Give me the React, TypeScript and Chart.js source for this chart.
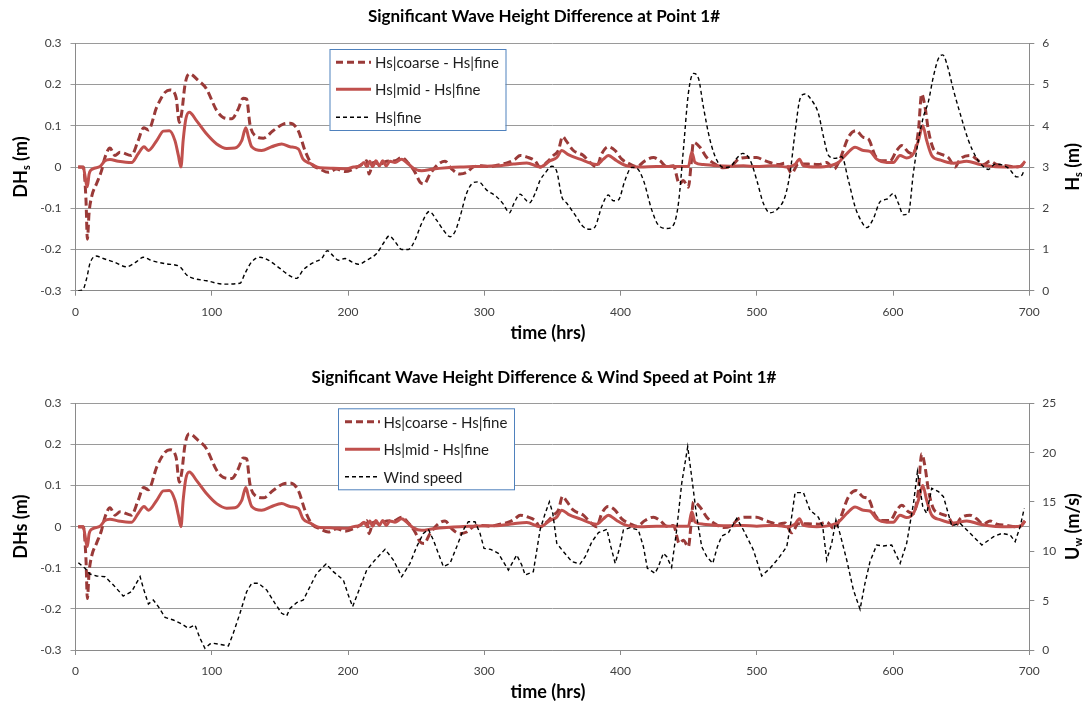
import React, { useEffect, useRef } from "react";
import Chart from "chart.js/auto";

// ---------------- data ----------------
const xTicks = [0, 100, 200, 300, 400, 500, 600, 700];
const dhTicks = [-0.3, -0.2, -0.1, 0, 0.1, 0.2, 0.3];
const hsTicks = [0, 1, 2, 3, 4, 5, 6];
const windTicks = [0, 5, 10, 15, 20, 25];

const coarseT = [2, 5.7, 7.7, 8.7, 10, 12, 15.5, 19, 21.6, 25.3, 29, 32.7, 41, 46, 50, 53.5, 59.6, 65.7, 69.4, 73.8, 76.2, 78, 80.4, 83.5, 90, 96, 103.6, 108.5, 114.6, 119.5, 123, 125.6, 128, 131.7, 137.9, 145, 152.5, 157.4, 163.5, 168.4, 173.3, 179.4, 185.6, 191.6, 197.8, 204, 210, 213.8, 215.4, 218.6, 223.5, 228.4, 234.5, 239.4, 244.3, 249.2, 252.9, 255.8, 260.2, 266.3, 271.2, 276.1, 282.2, 287.1, 292, 298.1, 304.2, 311.6, 317.7, 322.6, 326.3, 332.3, 337.3, 340.9, 345.8, 350.7, 354.4, 357.5, 360, 365.4, 372.7, 377.6, 382.5, 386.2, 391, 396, 400.9, 407, 411.9, 418, 424.1, 429, 433.9, 438.8, 443.2, 446.1, 449.8, 451.8, 453.5, 458.3, 463.3, 469.4, 475.5, 481.6, 486.5, 492.6, 500, 504.8, 509.7, 515.8, 520.7, 525.6, 530.5, 537.9, 545.2, 551.3, 556.7, 561.1, 567.2, 572.8, 578.2, 581.9, 586.8, 591.7, 597.8, 602.7, 606.4, 611.3, 614.9, 618.6, 621, 623.5, 626, 629.6, 634.5, 640.6, 645.5, 649.2, 656.5, 661.4, 666.3, 671.2, 676.1, 683.4, 689.5, 694.4, 696.9];
const coarseV = [0, 0, -0.08, -0.175, -0.11, -0.07, -0.04, -0.01, 0.023, 0.046, 0.028, 0.036, 0.028, 0.064, 0.095, 0.09, 0.145, 0.181, 0.187, 0.169, 0.108, 0.133, 0.2, 0.226, 0.21, 0.19, 0.137, 0.12, 0.117, 0.141, 0.167, 0.165, 0.104, 0.076, 0.07, 0.088, 0.104, 0.106, 0.088, 0.04, 0.007, -0.005, -0.013, -0.005, -0.011, -0.005, 0.006, 0.015, -0.017, 0.011, 0.007, 0.014, 0.015, 0.023, 0.009, -0.013, -0.037, -0.041, -0.017, 0.007, 0.014, -0.005, -0.017, -0.013, 0, 0.003, 0.001, 0.006, 0.011, 0.019, 0.028, 0.023, 0.015, 0, 0.011, 0.028, 0.04, 0.074, 0.064, 0.04, 0.028, 0.011, 0, 0.032, 0.049, 0.04, 0.019, 0.007, 0.001, 0.015, 0.023, 0.015, 0.001, 0.003, -0.041, -0.033, -0.049, 0.007, 0.06, 0.048, 0.023, 0.007, -0.002, 0.003, 0.019, 0.023, 0.023, 0.017, 0.011, 0.006, 0.009, -0.015, 0.007, 0.007, 0.006, 0.011, -0.005, 0.019, 0.072, 0.088, 0.072, 0.068, 0.028, 0.015, 0.015, 0.04, 0.052, 0.036, 0.032, 0.088, 0.177, 0.145, 0.088, 0.044, 0.032, 0.023, 0, 0.019, 0.028, 0.019, 0.006, 0.014, 0.006, 0.003, 0, 0.003, 0.015];

const midT = [2, 5.7, 7.7, 8.7, 10, 12.6, 18, 21.6, 25.3, 31.4, 41.2, 46, 50.3, 53.5, 59.6, 64.5, 68.9, 73, 75.5, 77.4, 79, 81, 83.5, 88.9, 96.3, 103.6, 111, 117, 122, 125, 127, 129.3, 136.6, 144, 151.3, 157.4, 163.5, 167, 172, 179.4, 189, 199, 204, 208.8, 211.8, 213.8, 216, 218, 220.5, 223, 225.5, 228, 230.8, 234.5, 239.4, 243, 248, 254, 262.6, 272.4, 282.2, 292, 301.8, 311.6, 321.4, 331.2, 341, 348.3, 353.2, 356.9, 361.7, 370.3, 382.5, 387.4, 391, 397.2, 404.5, 414.3, 426.5, 438.8, 449.8, 452.3, 454.7, 460.8, 470.6, 480.4, 490.2, 500, 509.7, 514.6, 521.9, 528, 531.3, 534.2, 544, 553.8, 559.9, 566, 572.1, 578.2, 583, 588, 595.4, 600.2, 605.1, 610, 614.9, 618.6, 621.8, 624.7, 628.4, 634.5, 644.3, 654.1, 663.9, 673.6, 683.4, 693.2, 696.9];
const midV = [0, -0.001, -0.037, -0.048, -0.017, -0.005, 0.001, 0.015, 0.018, 0.014, 0.011, 0.032, 0.049, 0.04, 0.064, 0.087, 0.088, 0.064, 0.028, 0, 0.064, 0.117, 0.133, 0.112, 0.08, 0.056, 0.045, 0.046, 0.064, 0.095, 0.072, 0.049, 0.04, 0.049, 0.056, 0.049, 0.044, 0.019, 0.009, -0.002, -0.003, -0.004, 0, 0.003, 0.011, 0.001, 0.014, 0.001, 0.015, 0.003, 0.015, 0.003, 0.014, 0.011, 0.019, 0.011, -0.003, -0.009, -0.005, -0.002, 0, 0.001, 0.002, 0.003, 0.007, 0.01, 0, 0.015, 0.023, 0.04, 0.03, 0.019, 0.006, 0.019, 0.028, 0.015, 0.003, 0, 0.001, 0.001, 0.001, 0.036, 0.011, 0.006, 0.003, 0.002, 0.003, 0.001, 0.003, 0.003, 0, 0.006, 0.019, 0.003, 0, 0.003, 0.011, 0.032, 0.048, 0.04, 0.038, 0.019, 0.011, 0.011, 0.028, 0.022, 0.032, 0.064, 0.1, 0.064, 0.028, 0.017, 0.009, 0.014, 0.006, 0.001, 0, 0.001, 0.014];

const fineT = [2, 5.3, 8.2, 10.6, 15, 20.4, 27.8, 37.6, 43.7, 50, 56, 66.9, 76.7, 81.6, 86.5, 96.3, 108.5, 120.7, 124.4, 129.3, 135.4, 141.5, 150, 157.4, 162.3, 167, 172, 175.8, 180.7, 184.8, 189.2, 193, 197.8, 202.7, 207.6, 213.7, 221, 226, 230.3, 234.5, 239.4, 244.3, 249.2, 254, 259.7, 265, 270, 274.9, 278.5, 282.2, 287, 292, 295.7, 301.8, 309, 314, 318.4, 321.8, 326.3, 330, 333.1, 337.3, 341, 344.6, 349.6, 353.2, 356.9, 360.6, 366.6, 372.7, 377.6, 381.3, 386.2, 391, 394.7, 398.4, 403.3, 408.2, 411.9, 416.8, 422.9, 427.8, 433.9, 438.8, 442.5, 446.1, 449.8, 453.5, 457.2, 460.8, 465.7, 470.6, 475.5, 480.4, 485.3, 489.7, 495.1, 500, 504.8, 509.7, 515.8, 520.7, 524.4, 528, 531.8, 535.4, 540.3, 545.2, 548.9, 552.5, 557.4, 562.3, 567.2, 572.1, 577, 580.7, 585.6, 590.5, 595.4, 600.2, 603.9, 607.6, 611.3, 614.9, 618.6, 622.3, 625.9, 629.6, 633.3, 636.5, 639.4, 644.3, 649.2, 655.3, 661.4, 666.3, 670, 674.9, 679.9, 684.8, 690.9, 694.5, 696.3];
const fineV = [0, 0.02, 0.3, 0.66, 0.84, 0.78, 0.7, 0.58, 0.68, 0.81, 0.73, 0.65, 0.58, 0.38, 0.3, 0.24, 0.16, 0.18, 0.42, 0.7, 0.81, 0.74, 0.54, 0.36, 0.3, 0.5, 0.63, 0.7, 0.78, 0.97, 0.84, 0.74, 0.78, 0.7, 0.64, 0.74, 0.9, 1.15, 1.33, 1.19, 1.0, 1.0, 1.23, 1.63, 1.92, 1.71, 1.47, 1.31, 1.43, 1.79, 2.36, 2.62, 2.64, 2.44, 2.28, 2.1, 1.89, 2.12, 2.34, 2.22, 2.13, 2.36, 2.68, 2.85, 3.02, 2.89, 2.28, 2.12, 1.84, 1.55, 1.49, 1.55, 2.04, 2.32, 2.18, 2.2, 2.68, 2.99, 2.97, 2.68, 1.96, 1.59, 1.51, 1.59, 2.12, 3.41, 4.79, 5.27, 5.15, 4.46, 3.65, 3.17, 2.99, 3.0, 3.21, 3.33, 3.17, 2.68, 2.12, 1.89, 2.0, 2.28, 2.85, 3.82, 4.66, 4.77, 4.62, 4.3, 3.74, 3.29, 3.21, 3.25, 2.68, 2.04, 1.67, 1.53, 1.75, 2.16, 2.22, 2.36, 2.12, 1.84, 1.88, 2.85, 3.65, 4.22, 4.58, 5.19, 5.63, 5.72, 5.51, 4.87, 4.3, 3.65, 3.21, 3.01, 2.94, 3.07, 3.05, 2.97, 2.76, 2.8, 2.93];

const windT = [2.1, 7, 10.6, 15.5, 21.6, 27.8, 35, 41.2, 44.9, 47.4, 49.8, 53.5, 57.1, 60.8, 65.7, 71.8, 77.9, 82.8, 87.7, 91.4, 95, 98.7, 101.2, 106, 112.2, 115.8, 120.7, 125.6, 129.3, 134.2, 140.3, 146.4, 151.3, 155, 157.4, 162.3, 167.2, 172.1, 177, 183.9, 189.2, 196.6, 200.2, 203.4, 207.6, 213.7, 219.8, 227.2, 233.3, 239.4, 245.5, 250.4, 255.3, 259, 262.6, 266.3, 270, 274.9, 279.8, 284.6, 288.3, 293.2, 296.9, 299.8, 304.7, 310.3, 314, 317.7, 323.8, 327.5, 330, 336, 341, 344.6, 347.8, 350.3, 353.2, 358.1, 364.3, 370.3, 374.1, 379, 383.8, 390, 392.9, 396.1, 399.6, 402.1, 407, 413.1, 416.8, 419.7, 425.3, 427.8, 431.4, 433.9, 437.5, 441.2, 444.9, 449.3, 452.2, 455.9, 459.6, 463.3, 467.7, 471.1, 474.3, 479.2, 485.3, 490.2, 497.5, 503.6, 509.7, 515.9, 522, 524.9, 528.1, 534.2, 539, 545.2, 548.4, 551.3, 555, 558.1, 561, 566, 570.9, 575.8, 579.4, 583.1, 588, 592.9, 599, 605.2, 610, 615, 617.9, 621.8, 624.7, 628.4, 633.3, 637, 643.1, 649.2, 656.6, 665.2, 673.8, 679.9, 686, 689.6, 693.3, 696.3];
const windV = [8.85, 8.28, 7.7, 7.5, 7.43, 6.59, 5.47, 5.91, 6.82, 7.43, 6.25, 4.66, 5.07, 4.39, 3.31, 3.04, 2.64, 2.2, 2.53, 1.18, 0.17, 0.61, 0.68, 0.57, 0.41, 1.69, 3.72, 5.91, 6.76, 6.76, 6.08, 4.73, 3.72, 3.45, 4.22, 4.8, 5.07, 6.42, 7.77, 8.72, 7.94, 7.09, 5.57, 4.39, 5.91, 8.1, 9.12, 10.2, 9.12, 7.43, 8.78, 10.47, 11.82, 12.23, 11.15, 9.8, 8.45, 8.78, 10.47, 12.16, 13.0, 13.0, 11.82, 10.3, 10.2, 9.8, 8.95, 8.1, 9.63, 8.61, 7.6, 7.94, 12.2, 13.8, 15.03, 13.85, 10.81, 9.97, 8.95, 8.72, 9.46, 10.98, 11.89, 12.23, 10.47, 8.78, 10.47, 12.16, 12.4, 12.16, 10.47, 8.28, 7.77, 8.45, 9.8, 9.46, 8.38, 12.16, 16.89, 20.6, 17.57, 13.51, 10.47, 9.46, 8.78, 10.47, 11.55, 11.89, 13.34, 12.16, 10.14, 7.5, 8.28, 9.29, 10.47, 12.84, 15.95, 15.95, 14.19, 13.45, 12.5, 9.12, 10.81, 13.18, 11.82, 9.12, 6.08, 4.12, 6.76, 8.95, 10.64, 10.54, 10.64, 8.78, 10.81, 14.86, 18.07, 14.53, 13.85, 16.39, 16.05, 15.54, 12.57, 12.84, 11.82, 10.64, 11.49, 11.82, 11.66, 10.98, 12.5, 14.36];

// ---------------- styles ----------------
const FONT = "Lato, 'Open Sans', sans-serif";
const COARSE = { color: "#9a3a38", width: 3, dash: [8, 4] };
const MID = { color: "#c0504d", width: 3, dash: [] as number[] };
const BLACK = { color: "#000000", width: 1.4, dash: [4, 3] };
const GRID = "#9a9a9a";
const AXIS = "#8a8a8a";

const pts = (t: number[], v: number[]) => t.map((x, i) => ({ x, y: v[i] }));

type Part = { t: string; sub?: boolean };

function drawParts(ctx: CanvasRenderingContext2D, parts: Part[], size: number) {
  const main = `bold ${size}px ${FONT}`;
  const small = `bold ${Math.round(size * 0.62)}px ${FONT}`;
  let total = 0;
  for (const p of parts) {
    ctx.font = p.sub ? small : main;
    total += ctx.measureText(p.t).width;
  }
  let x = -total / 2;
  ctx.textAlign = "left";
  ctx.textBaseline = "middle";
  for (const p of parts) {
    ctx.font = p.sub ? small : main;
    ctx.fillText(p.t, x, p.sub ? size * 0.32 : 0);
    x += ctx.measureText(p.t).width;
  }
}

const decorPlugin = {
  id: "decor",
  afterDraw(chart: any, _args: any, o: any) {
    const ctx: CanvasRenderingContext2D = chart.ctx;
    const ca = chart.chartArea;
    const cy = (ca.top + ca.bottom) / 2;
    ctx.save();
    ctx.fillStyle = "#000";

    ctx.save();
    ctx.translate(o.titleX, o.titleY);
    drawParts(ctx, [{ t: o.title }], 17);
    ctx.restore();

    ctx.save();
    ctx.translate(o.xTitleX, o.xTitleY);
    drawParts(ctx, [{ t: "time (hrs)" }], 18);
    ctx.restore();

    ctx.save();
    ctx.translate(o.leftX, cy);
    ctx.rotate(-Math.PI / 2);
    drawParts(ctx, o.leftTitle, 18);
    ctx.restore();

    ctx.save();
    ctx.translate(o.rightX, cy);
    ctx.rotate(-Math.PI / 2);
    drawParts(ctx, o.rightTitle, 18);
    ctx.restore();

    // legend
    const L = o.legend;
    ctx.fillStyle = "#ffffff";
    ctx.fillRect(L.x, L.y, L.w, L.h);
    ctx.strokeStyle = "#4f81bd";
    ctx.lineWidth = 1;
    ctx.strokeRect(L.x + 0.5, L.y + 0.5, L.w, L.h);
    L.rows.forEach((r: any) => {
      ctx.beginPath();
      ctx.strokeStyle = r.style.color;
      ctx.lineWidth = r.style.width;
      ctx.setLineDash(r.legendDash || r.style.dash);
      ctx.moveTo(L.sx1, r.y);
      ctx.lineTo(L.sx2, r.y);
      ctx.stroke();
      ctx.setLineDash([]);
      ctx.fillStyle = "#1e1e1e";
      ctx.font = `15px ${FONT}`;
      ctx.textAlign = "left";
      ctx.textBaseline = "middle";
      ctx.fillText(r.label, L.tx, r.y + 1);
    });
    ctx.restore();
  },
};

function makeConfig(top: boolean): any {
  const h = top ? 352 : 344;
  const bottomArea = top ? 290.7 : 290;
  const ds = (label: string, data: any, st: any, axis: string, order: number, smooth: boolean) => ({
    label,
    data,
    yAxisID: axis,
    borderColor: st.color,
    borderWidth: st.width,
    borderDash: st.dash,
    pointRadius: 0,
    fill: false,
    order,
    tension: smooth ? 0.4 : 0,
    cubicInterpolationMode: smooth ? "monotone" : "default",
  });
  const datasets = [
    ds("Hs|coarse - Hs|fine", pts(coarseT, coarseV), COARSE, "y", 3, true),
    ds("Hs|mid - Hs|fine", pts(midT, midV), MID, "y", 2, true),
    top
      ? ds("Hs|fine", pts(fineT, fineV), BLACK, "y2", 1, true)
      : ds("Wind speed", pts(windT, windV), BLACK, "y2", 1, false),
  ];
  const tickFont = { family: FONT, size: 12 };
  const fmt = (v: any) => String(Math.round(Number(v) * 10) / 10);
  return {
    type: "line",
    data: { datasets },
    plugins: [decorPlugin],
    options: {
      responsive: false,
      animation: false,
      devicePixelRatio: 1,
      layout: { padding: { top: 43.3, left: 0, right: 0, bottom: 0 } },
      plugins: {
        legend: { display: false },
        tooltip: { enabled: false },
        title: { display: false },
        decor: {
          title: top
            ? "Significant Wave Height Difference at Point 1#"
            : "Significant Wave Height Difference & Wind Speed at Point 1#",
          titleX: 544,
          titleY: top ? 17 : 18,
          xTitleX: 548,
          xTitleY: top ? 333 : 332,
          leftX: 21,
          rightX: 1073,
          leftTitle: top ? [{ t: "DH" }, { t: "s", sub: true }, { t: " (m)" }] : [{ t: "DHs (m)" }],
          rightTitle: top
            ? [{ t: "H" }, { t: "s", sub: true }, { t: " (m)" }]
            : [{ t: "U" }, { t: "w", sub: true }, { t: " (m/s)" }],
          legend: top
            ? {
                x: 329.5, y: 49, w: 176, h: 81, sx1: 336, sx2: 371, tx: 375,
                rows: [
                  { label: "Hs|coarse - Hs|fine", style: COARSE, y: 62.3, legendDash: [7, 4] },
                  { label: "Hs|mid - Hs|fine", style: MID, y: 89.3 },
                  { label: "Hs|fine", style: BLACK, y: 117.3 },
                ],
              }
            : {
                x: 338, y: 48.3, w: 176, h: 81, sx1: 345, sx2: 380, tx: 383.5,
                rows: [
                  { label: "Hs|coarse - Hs|fine", style: COARSE, y: 61.7, legendDash: [7, 4] },
                  { label: "Hs|mid - Hs|fine", style: MID, y: 89.3 },
                  { label: "Wind speed", style: BLACK, y: 116.7 },
                ],
              },
        },
      },
      scales: {
        x: {
          type: "linear",
          min: 0,
          max: 700,
          afterBuildTicks: (s: any) => { s.ticks = xTicks.map((v) => ({ value: v })); },
          afterFit: (s: any) => { s.height = h - bottomArea; },
          ticks: { font: tickFont, color: "#404040", padding: 9, maxRotation: 0, callback: fmt },
          grid: { drawOnChartArea: false, drawTicks: true, tickLength: 5, color: AXIS },
          border: { display: true, color: AXIS },
        },
        y: {
          type: "linear",
          position: "left",
          min: -0.3,
          max: 0.3,
          afterBuildTicks: (s: any) => { s.ticks = dhTicks.map((v) => ({ value: v })); },
          afterFit: (s: any) => { s.width = 75.5; },
          ticks: { font: tickFont, color: "#404040", padding: 9, callback: fmt },
          grid: { drawOnChartArea: true, drawTicks: true, tickLength: 5, color: GRID },
          border: { display: true, color: AXIS },
        },
        y2: {
          type: "linear",
          position: "right",
          min: 0,
          max: top ? 6 : 25,
          afterBuildTicks: (s: any) => {
            s.ticks = (top ? hsTicks : windTicks).map((v) => ({ value: v }));
          },
          afterFit: (s: any) => { s.width = 1092 - 1029.3; },
          ticks: { font: tickFont, color: "#404040", padding: 8, callback: fmt },
          grid: { drawOnChartArea: false, drawTicks: true, tickLength: 5, color: AXIS },
          border: { display: true, color: AXIS },
        },
      },
    },
  };
}

export default function App() {
  const ref1 = useRef<HTMLCanvasElement>(null);
  const ref2 = useRef<HTMLCanvasElement>(null);
  useEffect(() => {
    const c1 = new Chart(ref1.current as HTMLCanvasElement, makeConfig(true));
    const c2 = new Chart(ref2.current as HTMLCanvasElement, makeConfig(false));
    return () => {
      c1.destroy();
      c2.destroy();
    };
  }, []);
  return (
    <div style={{ position: "fixed", left: 0, top: 0, width: 1092, height: 704, background: "#fff" }}>
      <canvas ref={ref1} width={1092} height={352} style={{ position: "absolute", left: 0, top: 0, width: 1092, height: 352 }} />
      <canvas ref={ref2} width={1092} height={344} style={{ position: "absolute", left: 0, top: 360, width: 1092, height: 344 }} />
    </div>
  );
}
